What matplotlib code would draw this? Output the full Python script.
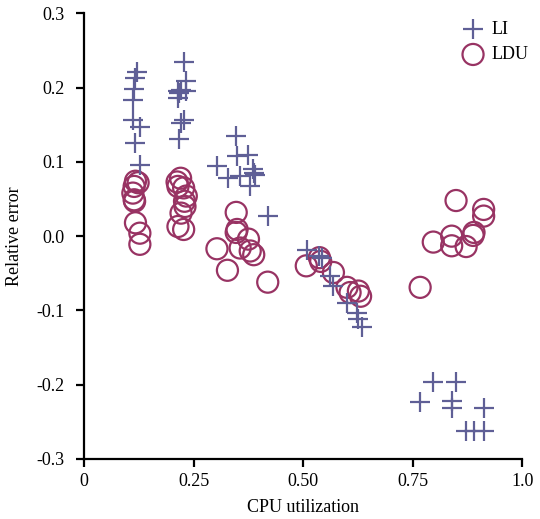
import matplotlib
matplotlib.use("Agg")
import matplotlib.pyplot as plt

# LI (plus markers)
li_x = [0.121, 0.117, 0.114, 0.111, 0.111, 0.127, 0.117, 0.127,
        0.227, 0.233, 0.221, 0.214, 0.233, 0.214, 0.217, 0.227, 0.221, 0.217,
        0.347, 0.349, 0.375, 0.303, 0.329, 0.356, 0.385, 0.387, 0.390, 0.379, 0.419,
        0.508, 0.535, 0.543, 0.562, 0.569, 0.600, 0.623, 0.626, 0.634,
        0.797, 0.849, 0.767, 0.839, 0.839, 0.912, 0.872, 0.890, 0.912]
li_y = [0.221, 0.213, 0.198, 0.184, 0.156, 0.147, 0.126, 0.096,
        0.235, 0.209, 0.197, 0.195, 0.196, 0.186, 0.193, 0.157, 0.152, 0.131,
        0.135, 0.108, 0.110, 0.094, 0.079, 0.081, 0.090, 0.085, 0.083, 0.067, 0.027,
        -0.018, -0.027, -0.029, -0.054, -0.067, -0.090, -0.103, -0.112, -0.123,
        -0.196, -0.196, -0.224, -0.222, -0.232, -0.231, -0.262, -0.262, -0.262]

# LDU (circle markers)
ldu_x = [0.117, 0.123, 0.114, 0.111, 0.114, 0.115, 0.117, 0.127, 0.127,
         0.220, 0.212, 0.214, 0.227, 0.233, 0.229, 0.230, 0.221, 0.214, 0.227,
         0.347, 0.349, 0.347, 0.375, 0.303, 0.356, 0.379, 0.387, 0.327, 0.419,
         0.507, 0.537, 0.540, 0.569, 0.600, 0.626, 0.631, 0.607,
         0.849, 0.912, 0.912, 0.890, 0.888, 0.839, 0.797, 0.839, 0.872, 0.767]
ldu_y = [0.074, 0.072, 0.067, 0.058, 0.049, 0.047, 0.018, 0.004, -0.011,
         0.078, 0.073, 0.067, 0.065, 0.054, 0.047, 0.040, 0.031, 0.013, 0.009,
         0.032, 0.009, 0.005, -0.004, -0.017, -0.016, -0.020, -0.025, -0.046, -0.062,
         -0.040, -0.029, -0.034, -0.049, -0.069, -0.074, -0.081, -0.076,
         0.048, 0.036, 0.027, 0.005, 0.001, 0.000, -0.008, -0.013, -0.014, -0.069]

x_ticks = [0, 0.25, 0.5, 0.75, 1.0]
x_labels = ["0", "0.25", "0.50", "0.75", "1.0"]
y_ticks = [0.3, 0.2, 0.1, 0.0, -0.1, -0.2, -0.3]
y_labels = ["0.3", "0.2", "0.1", "0.0", "-0.1", "-0.2", "-0.3"]

plt.rcParams['font.family'] = ['Liberation Serif', 'DejaVu Serif']

li_color = "#5f5f96"
ldu_color = "#983363"

fig = plt.figure(figsize=(5.4, 5.19), dpi=100)
ax = fig.add_axes([0.156, 0.116, 0.811, 0.858])

ax.scatter(li_x, li_y, marker='+', s=190, color=li_color, linewidths=1.6,
           label="LI", zorder=3)
ax.scatter(ldu_x, ldu_y, marker='o', s=230, facecolors='none',
           edgecolors=ldu_color, linewidths=1.6, label="LDU", zorder=2)

ax.set_xlim(0, 1.0)
ax.set_ylim(-0.3, 0.3)
ax.set_xticks(x_ticks)
ax.set_xticklabels(x_labels)
ax.set_yticks(y_ticks)
ax.set_yticklabels(y_labels)

for side in ['top', 'right']:
    ax.spines[side].set_visible(False)
for side in ['left', 'bottom']:
    ax.spines[side].set_linewidth(1.6)

ax.tick_params(axis='both', direction='out', length=6, width=1.6, labelsize=13)
ax.tick_params(axis='x', pad=4)
ax.tick_params(axis='y', pad=8)

ax.set_xlabel("CPU utilization", fontsize=13, labelpad=7)
ax.set_ylabel("Relative error", fontsize=13, labelpad=10)

ax.legend(loc='upper right', frameon=False, fontsize=13, handletextpad=0.0,
          borderaxespad=0.0, labelspacing=0.47, bbox_to_anchor=(1.03, 1.0))

fig.savefig("out.png", dpi=100)
